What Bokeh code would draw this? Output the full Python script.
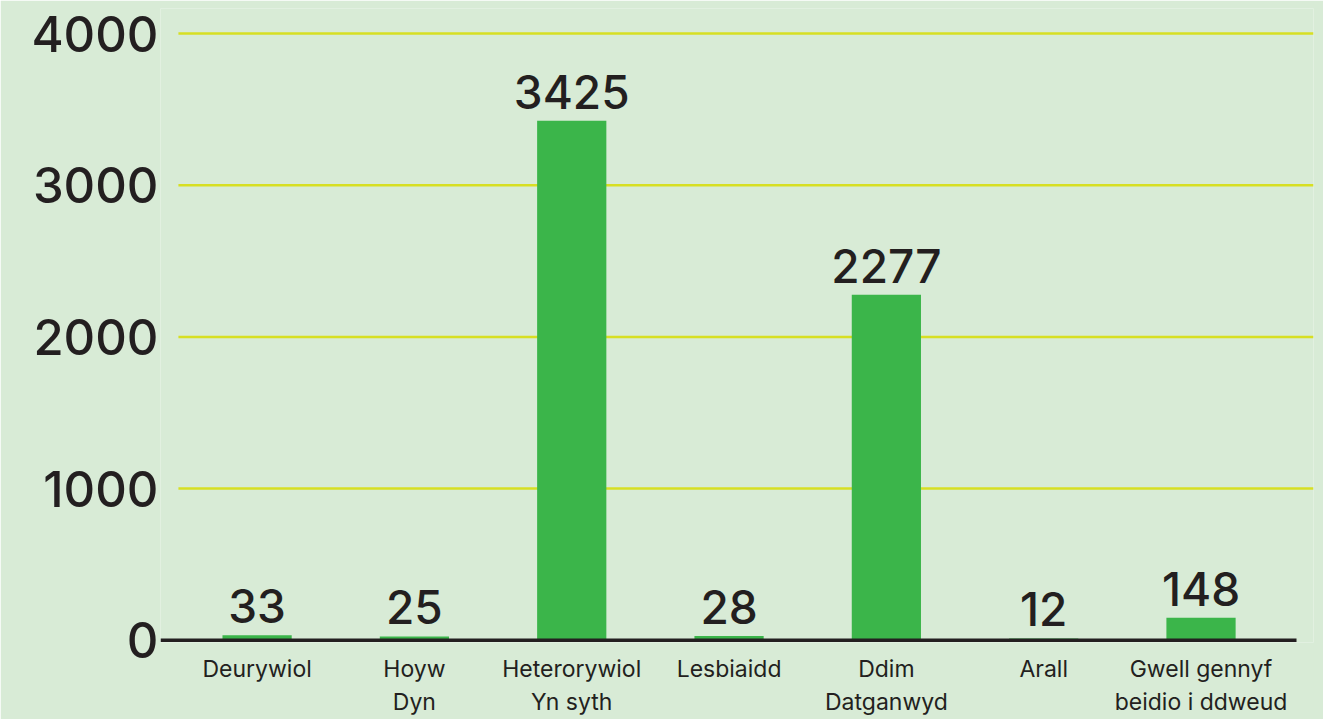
from bokeh.plotting import figure
from bokeh.models import Range1d, FixedTicker, ColumnDataSource
from bokeh.embed import file_html
from bokeh.resources import INLINE
from bokeh.core.properties import value

categories = ["Deurywiol", "Hoyw\nDyn", "Heterorywiol\nYn syth", "Lesbiaidd",
              "Ddim\nDatganwyd", "Arall", "Gwell gennyf\nbeidio i ddweud"]
counts = [33, 25, 3425, 28, 2277, 12, 148]
y_ticks = [0, 1000, 2000, 3000, 4000]
grid_values = [1000, 2000, 3000, 4000]

BG = "#d8ebd6"
BAR = "#3bb54a"
GRID = "#d7df23"
TXT = "#231f20"
NUM_FONT = "Inter Medium, Inter"

xs = list(range(len(categories)))
src = ColumnDataSource(dict(x=xs, top=counts, label=[str(c) for c in counts]))

p = figure(frame_width=1153, frame_height=634, min_border_left=160, min_border_right=10,
           min_border_top=8, min_border_bottom=70,
           x_range=Range1d(-0.614, 6.715), y_range=Range1d(-15, 4165),
           output_backend="svg", toolbar_location=None)
p.background_fill_color = BG
p.border_fill_color = BG
p.outline_line_color = None
p.xgrid.visible = False
p.ygrid.visible = False

# grid lines
p.segment(x0=[-0.5] * len(grid_values), x1=[6.715] * len(grid_values),
          y0=grid_values, y1=grid_values, line_color=GRID, line_width=2.5)

p.vbar(x="x", top="top", bottom=0, width=0.44, source=src, fill_color=BAR, line_color=None)

# baseline
p.segment(x0=[-0.614], x1=[6.607], y0=[0], y1=[0], line_color=TXT, line_width=3.5)

p.text(x="x", y="top", text="label", source=src, text_align="center",
       text_baseline="bottom", y_offset=-12, text_color=TXT,
       text_font=value(NUM_FONT), text_font_size="46px")

p.yaxis.ticker = FixedTicker(ticks=y_ticks)
p.yaxis.axis_line_color = None
p.yaxis.major_tick_line_color = None
p.yaxis.minor_tick_line_color = None
p.yaxis.major_tick_out = 0
p.yaxis.major_label_standoff = 2
p.yaxis.major_label_text_font = NUM_FONT
p.yaxis.major_label_text_font_size = "49px"
p.yaxis.major_label_text_color = TXT

p.xaxis.ticker = FixedTicker(ticks=xs)
p.xaxis.major_label_overrides = {i: c for i, c in zip(xs, categories)}
p.xaxis.axis_line_color = None
p.xaxis.major_tick_line_color = None
p.xaxis.minor_tick_line_color = None
p.xaxis.major_tick_out = 0
p.xaxis.major_label_standoff = 12
p.xaxis.major_label_text_font = "Inter"
p.xaxis.major_label_text_font_size = "23px"
p.xaxis.major_label_text_color = TXT

open("out.html", "w").write(file_html(p, INLINE))
